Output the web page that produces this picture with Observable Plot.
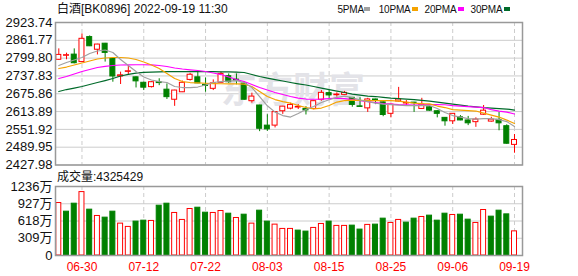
<!DOCTYPE html>
<html><head><meta charset="utf-8">
<script src="https://cdn.jsdelivr.net/npm/d3@7"></script>
<script src="https://cdn.jsdelivr.net/npm/@observablehq/plot@0.6"></script>
<style>
body{margin:0;background:#fff;}
#wrap{position:relative;width:578px;height:276px;overflow:hidden;font-family:"Liberation Sans",Arial,"Noto Sans CJK SC",sans-serif;color:#111;}
#wrap svg{position:absolute;left:0;}
.lbl{position:absolute;white-space:nowrap;}
#title{left:57px;top:2px;font-size:12px;line-height:14px;}
#volLabel{left:57px;top:170px;font-size:12px;line-height:14px;}
.lg{position:absolute;top:3px;font-size:10px;line-height:14px;letter-spacing:-0.2px;}
.sq{position:absolute;top:7px;width:6px;height:4px;}
</style></head>
<body>
<div id="wrap"></div>
<script>
const dates = ["06-27","06-28","06-29","06-30","07-01","07-04","07-05","07-06","07-07","07-08","07-11","07-12","07-13","07-14","07-15","07-18","07-19","07-20","07-21","07-22","07-25","07-26","07-27","07-28","07-29","08-01","08-02","08-03","08-04","08-05","08-08","08-09","08-10","08-11","08-12","08-15","08-16","08-17","08-18","08-19","08-22","08-23","08-24","08-25","08-26","08-29","08-30","08-31","09-01","09-02","09-05","09-06","09-07","09-08","09-09","09-13","09-14","09-15","09-16","09-19"];
const open  = [2794,2808,2812,2786,2873,2829,2850,2797,2736,2752,2733,2714,2699,2716,2690,2655,2681,2724,2733,2707,2693,2714,2737,2725,2711,2650,2635,2565,2565,2615,2624,2628,2623,2623,2655,2678,2671,2672,2662,2632,2625,2656,2646,2606,2649,2642,2645,2623,2629,2615,2592,2580,2594,2583,2577,2603,2579,2585,2563,2498];
const high  = [2832,2817,2832,2884,2877,2848,2851,2799,2751,2774,2735,2716,2718,2728,2710,2688,2720,2747,2751,2731,2724,2751,2745,2745,2716,2678,2636,2603,2613,2632,2643,2638,2631,2651,2687,2687,2679,2684,2663,2662,2660,2657,2648,2640,2698,2652,2646,2660,2631,2617,2593,2607,2600,2597,2592,2635,2594,2611,2568,2534];
const low   = [2792,2794,2780,2784,2840,2811,2786,2716,2708,2740,2696,2687,2696,2704,2656,2632,2680,2720,2711,2681,2687,2713,2712,2707,2653,2643,2544,2545,2557,2604,2620,2621,2602,2620,2650,2655,2664,2671,2629,2629,2611,2638,2596,2592,2647,2632,2611,2621,2615,2592,2563,2569,2582,2565,2559,2601,2577,2547,2500,2469];
const close = [2811,2810,2782,2867,2841,2847,2818,2736,2740,2754,2719,2697,2716,2713,2664,2687,2714,2742,2712,2703,2712,2745,2716,2722,2655,2666,2554,2552,2612,2631,2637,2630,2618,2650,2679,2670,2673,2679,2637,2630,2656,2654,2602,2638,2656,2644,2643,2638,2617,2606,2580,2606,2583,2573,2586,2617,2586,2573,2502,2515];
const ma5  = [2774.1,2784.5,2793.2,2801.9,2815.8,2824.5,2828.0,2819.3,2794.9,2774.1,2753.2,2734.0,2723.6,2718.3,2714.9,2701.0,2697.5,2697.5,2699.2,2706.2,2714.9,2718.3,2720.1,2721.8,2714.9,2697.5,2666.2,2634.0,2612.0,2600.0,2594.8,2607.0,2621.0,2631.4,2645.3,2655.0,2663.0,2667.9,2662.7,2654.0,2648.7,2643.5,2640.0,2638.3,2636.6,2634.8,2634.8,2634.8,2634.8,2624.4,2610.5,2600.0,2594.8,2589.6,2587.8,2589.6,2589.6,2586.1,2579.1,2561.7];
const ma10 = [2763.6,2768.8,2775.8,2782.7,2789.7,2796.7,2800.2,2801.9,2801.9,2800.2,2794.9,2786.2,2775.8,2763.6,2746.2,2728.8,2718.3,2714.9,2713.8,2712.4,2711.4,2710.7,2710.3,2710.3,2709.0,2701.0,2683.6,2666.2,2655.7,2648.7,2643.5,2634.8,2627.9,2623.3,2626.1,2634.8,2647.0,2652.2,2653.9,2652.9,2652.2,2652.2,2652.2,2652.2,2650.5,2647.0,2643.5,2641.8,2640.7,2633.1,2627.9,2620.9,2619.2,2617.4,2615.7,2608.7,2601.7,2594.8,2584.3,2572.2];
const ma20 = [2728.8,2735.8,2744.5,2753.2,2760.1,2767.1,2771.3,2774.1,2775.8,2776.5,2776.8,2776.8,2776.5,2774.1,2770.6,2765.4,2761.9,2759.1,2756.7,2753.2,2748.0,2742.7,2734.0,2725.3,2718.3,2707.9,2697.5,2688.8,2680.1,2673.1,2666.2,2660.9,2657.5,2656.8,2657.5,2659.2,2660.9,2659.2,2655.7,2652.2,2648.7,2645.2,2641.8,2640.0,2638.3,2637.2,2636.6,2637.2,2638.3,2638.3,2637.6,2634.8,2633.1,2631.3,2629.6,2627.9,2620.9,2615.7,2612.2,2605.3];
const ma30 = [2683.6,2690.5,2695.7,2701.0,2707.9,2714.9,2721.8,2728.8,2737.5,2743.4,2747.9,2750.4,2751.4,2752.1,2752.5,2752.5,2752.5,2752.5,2752.5,2752.5,2752.5,2752.1,2751.8,2751.4,2749.7,2742.7,2735.8,2730.5,2725.3,2720.1,2714.9,2710.3,2706.2,2701.0,2695.7,2690.5,2685.3,2680.1,2674.8,2671.4,2667.9,2666.2,2663.4,2660.9,2659.2,2657.5,2655.7,2652.9,2650.5,2647.0,2643.5,2640.0,2636.6,2633.1,2630.3,2627.9,2626.1,2624.4,2622.6,2619.1];
const volume = [940,785,928,1136,821,708,678,785,571,512,607,624,619,892,928,762,637,833,856,767,762,797,749,672,731,571,803,607,553,476,476,446,428,494,565,607,530,530,535,464,548,553,660,583,637,589,660,690,714,624,749,726,731,642,583,815,696,803,737,432.5];
const volUp = [1,0,0,1,0,1,0,0,1,1, 0,0,1,0,0,1,1,1,0,0, 1,1,0,1,0,1,0,0,1,1, 1,0,0,1,1,0,1,1,0,0, 1,0,0,1,1,0,0,1,0,0, 0,1,0,0,1,1,0,0,0,1];
const priceTicks = [2427.98,2489.95,2551.92,2613.89,2675.86,2737.83,2799.80,2861.77,2923.74];
const volTicks = [0,309,618,927,1236];
const labelDates = ["06-30","07-12","07-22","08-03","08-15","08-25","09-06","09-19"];
const title = "白酒[BK0896] 2022-09-19 11:30";
const volText = "成交量:4325429";
const maNames = ["5PMA","10PMA","20PMA","30PMA"];
const maColors = ["#a0a0a0","#f5a300","#ff00ff","#006a2a"];

const RED = "#ff0000", GREEN = "#008000";
const data = dates.map((d, i) => ({date: d, open: open[i], high: high[i], low: low[i], close: close[i],
  vol: volume[i], volUp: volUp[i], ma5: ma5[i], ma10: ma10[i], ma20: ma20[i], ma30: ma30[i]}));
const up = d => d.close >= d.open;

const xScale = {type: "band", domain: dates, range: [55.8, 516.5], paddingInner: 0.353, paddingOuter: 0, axis: null};
const font = '"Liberation Sans", Arial, "Noto Sans CJK SC", sans-serif';

const price = Plot.plot({
  width: 578, height: 176, marginTop: 22, marginBottom: 11.5, marginLeft: 55, marginRight: 56,
  style: {fontSize: "13px", fontFamily: font, background: "transparent", color: "#111"},
  x: xScale,
  y: {domain: [2427.98, 2923.74], axis: null},
  marks: [
    Plot.gridY(priceTicks, {stroke: "#cccccc", strokeOpacity: 1}),
    Plot.ruleX(labelDates, {stroke: "#cccccc", strokeDasharray: "4,3"}),
    Plot.text(["东方财富"], {frameAnchor: "middle", fontSize: 36, fontWeight: "bold", fill: "#e3e3e8", dy: -2, dx: 4, fontFamily: '"Noto Sans CJK SC", sans-serif'}),
    Plot.ruleX(data, {x: "date", y1: "low", y2: "high", stroke: d => up(d) ? RED : GREEN, strokeWidth: 1}),
    Plot.barY(data, {x: "date", y1: "open", y2: "close", inset: 0, fill: d => up(d) ? "white" : GREEN, stroke: d => up(d) ? RED : GREEN, strokeWidth: 1}),
    Plot.lineY(data, {x: "date", y: "ma30", stroke: maColors[3], strokeWidth: 1.2}),
    Plot.lineY(data, {x: "date", y: "ma20", stroke: maColors[2], strokeWidth: 1.2}),
    Plot.lineY(data, {x: "date", y: "ma10", stroke: maColors[1], strokeWidth: 1.2}),
    Plot.lineY(data, {x: "date", y: "ma5", stroke: maColors[0], strokeWidth: 1.2}),
    Plot.axisY(priceTicks, {tickSize: 0, tickPadding: 3, label: null, tickFormat: d => d.toFixed(2)}),
    Plot.frame({stroke: "#999", strokeWidth: 1.5})
  ]
});
price.style.top = "0px";

const vol = Plot.plot({
  width: 578, height: 106, marginTop: 16, marginBottom: 21, marginLeft: 55, marginRight: 56,
  style: {fontSize: "13px", fontFamily: font, background: "transparent", color: "#111"},
  x: xScale,
  y: {domain: [0, 1236], axis: null},
  marks: [
    Plot.gridY(volTicks.filter(t => t > 0 && t < 1236), {stroke: "#cccccc", strokeOpacity: 1}),
    Plot.ruleX(labelDates, {stroke: "#cccccc", strokeDasharray: "4,3"}),
    Plot.barY(data, {x: "date", y: "vol", inset: 0, fill: d => d.volUp ? "white" : GREEN, stroke: d => d.volUp ? RED : GREEN, strokeWidth: 1}),
    Plot.axisY(volTicks, {tickSize: 0, tickPadding: 3, label: null, tickFormat: d => d === 0 ? "0" : d + "万"}),
    Plot.axisX(labelDates, {tickSize: 0, tickPadding: 7, label: null, color: RED, fontSize: 12}),
    Plot.frame({stroke: "#999", strokeWidth: 1.5})
  ]
});
vol.style.top = "170px";

const wrap = document.getElementById("wrap");
wrap.appendChild(vol);
wrap.appendChild(price);

function addDiv(cls, id, text, style) {
  const el = document.createElement("div");
  el.className = cls; if (id) el.id = id; el.textContent = text;
  Object.assign(el.style, style || {});
  wrap.appendChild(el); return el;
}
addDiv("lbl", "title", title);
addDiv("lbl", "volLabel", volText);
const lgText = [337.5, 378.7, 424.6, 470.6];
const lgSq = [364, 412, 458, 504];
maNames.forEach((n, i) => {
  addDiv("lg", null, n, {left: lgText[i] + "px"});
  addDiv("sq", null, "", {left: lgSq[i] + "px", background: maColors[i]});
});
</script>
</body></html>
